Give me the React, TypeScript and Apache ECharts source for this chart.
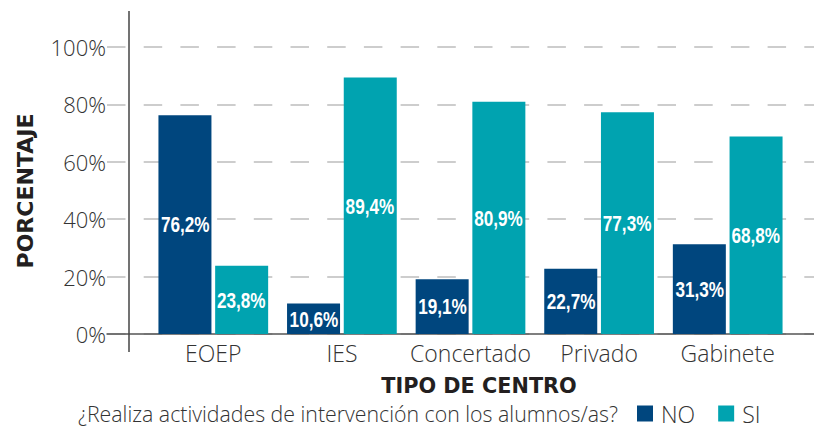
import React, { useEffect, useRef } from "react";
import * as echarts from "echarts";

const categories = ["EOEP", "IES", "Concertado", "Privado", "Gabinete"];
const noValues = [76.2, 10.6, 19.1, 22.7, 31.3];
const siValues = [23.8, 89.4, 80.9, 77.3, 68.8];
const yTicks = [0, 20, 40, 60, 80, 100];
const seriesNames = ["NO", "SI"];
const question = "¿Realiza actividades de intervención con los alumnos/as?";
const xTitle = "TIPO DE CENTRO";
const yTitle = "PORCENTAJE";

const NO_COLOR = "#00467e";
const SI_COLOR = "#00a3b0";
const FONT = "'Open Sans'";
const TITLE_FONT = "'DejaVu Sans'";
const LABEL_FONT = "'Liberation Sans'";

const fmt = (v: number) => v.toFixed(1).replace(".", ",") + "%";

function labelSeries(values: number[], offset: number) {
  return {
    type: "custom",
    xAxisIndex: 0,
    yAxisIndex: 0,
    silent: true,
    z: 5,
    data: values.map((v, i) => [i, v]),
    renderItem: (_params: any, api: any) => {
      const v = api.value(1);
      const c = api.coord([api.value(0), v / 2]);
      return {
        type: "text",
        x: c[0] + offset,
        y: c[1],
        scaleX: 0.78,
        style: {
          text: fmt(v),
          fill: "#ffffff",
          font: `bold 22px ${LABEL_FONT}`,
          textAlign: "center",
          textVerticalAlign: "middle",
        },
      };
    },
  };
}

export default function App() {
  const ref = useRef<HTMLDivElement>(null);
  useEffect(() => {
    if (!ref.current) return;
    const chart = echarts.init(ref.current, undefined, { renderer: "svg" });
    chart.setOption({
      animation: false,
      grid: [
        { left: 149, right: 22, top: 47, bottom: 95 },
        { left: 107, right: 0, top: 47, bottom: 95 },
      ],
      xAxis: [
        {
          type: "category",
          gridIndex: 0,
          data: categories,
          axisLine: { show: false },
          axisTick: { show: false },
          axisLabel: {
            interval: 0,
            color: "#333",
            fontFamily: FONT,
            fontWeight: 300,
            fontSize: 23,
            margin: 7,
          },
        },
        {
          type: "value",
          gridIndex: 1,
          min: 0,
          max: 1,
          axisLine: { show: true, lineStyle: { color: "#555", width: 1.5 } },
          axisTick: { show: false },
          axisLabel: { show: false },
          splitLine: { show: false },
        },
      ],
      yAxis: [
        {
          type: "value",
          gridIndex: 0,
          min: 0,
          max: 100,
          interval: 20,
          axisLine: { show: false },
          axisTick: { show: false },
          axisLabel: { show: false },
          splitLine: { show: false },
        },
        {
          type: "value",
          gridIndex: 1,
          min: yTicks[0],
          max: yTicks[yTicks.length - 1],
          interval: 20,
          axisLine: { show: false },
          axisTick: { show: false },
          axisLabel: {
            color: "#333",
            fontFamily: FONT,
            fontWeight: 300,
            fontSize: 22,
            margin: 1,
            formatter: (v: number) => v + "%",
          },
          splitLine: {
            show: true,
            lineStyle: { color: "#bdbdbd", width: 1.5, type: [18.5, 18.2] },
          },
        },
      ],
      legend: {
        left: 637,
        top: 402,
        padding: 0,
        icon: "rect",
        itemWidth: 16,
        itemHeight: 16,
        itemGap: 23,
        data: seriesNames,
        textStyle: {
          color: "#333",
          fontFamily: FONT,
          fontWeight: 300,
          fontSize: 23,
          padding: [0, 0, 0, 3],
        },
      },
      graphic: [
        {
          type: "line",
          shape: { x1: 129, y1: 11, x2: 129, y2: 352 },
          style: { stroke: "#444", lineWidth: 1.5 },
          z: 10,
        },
        {
          type: "text",
          x: 479,
          y: 386,
          style: {
            text: xTitle,
            fill: "#231f20",
            font: `bold 20.8px ${TITLE_FONT}`,
            textAlign: "center",
            textVerticalAlign: "middle",
          },
        },
        {
          type: "text",
          x: 25,
          y: 191,
          rotation: Math.PI / 2,
          style: {
            text: yTitle,
            fill: "#231f20",
            font: `bold 22px ${TITLE_FONT}`,
            textAlign: "center",
            textVerticalAlign: "middle",
          },
        },
        {
          type: "text",
          x: 78,
          y: 413,
          style: {
            text: question,
            fill: "#333",
            font: `300 21.3px ${FONT}`,
            textAlign: "left",
            textVerticalAlign: "middle",
          },
        },
      ],
      series: [
        {
          name: seriesNames[0],
          type: "bar",
          xAxisIndex: 0,
          yAxisIndex: 0,
          data: noValues,
          barWidth: 53,
          barGap: "7%",
          itemStyle: { color: NO_COLOR },
        },
        {
          name: seriesNames[1],
          type: "bar",
          xAxisIndex: 0,
          yAxisIndex: 0,
          data: siValues,
          barWidth: 53,
          barGap: "7%",
          itemStyle: { color: SI_COLOR },
        },
        labelSeries(noValues, -28),
        labelSeries(siValues, 28),
      ],
    });
    return () => chart.dispose();
  }, []);
  return <div ref={ref} style={{ width: 814, height: 429, position: "absolute", left: 0, top: 0 }} />;
}
